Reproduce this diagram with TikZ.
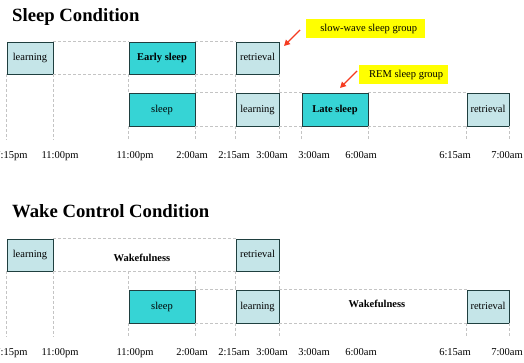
\documentclass[tikz,border=0pt]{standalone}
\usepackage{fontspec}
\setmainfont{Liberation Serif}
\usetikzlibrary{arrows.meta}
\definecolor{lightbox}{HTML}{C5E5E8}
\definecolor{tealbox}{HTML}{36D4D5}
\definecolor{boxline}{HTML}{1F3F3F}
\definecolor{guidegray}{HTML}{C4C4C4}
\definecolor{notey}{HTML}{FFFF00}
\definecolor{arrowred}{HTML}{F53B20}
\tikzset{
  boxbase/.style={draw=boxline, line width=0.9pt, inner sep=0pt, minimum height=32pt,
    font=\fontsize{10.5}{12}\selectfont, text height=1.5ex, text depth=0.3ex},
  lbox/.style={boxbase, fill=lightbox},
  tbox/.style={boxbase, fill=tealbox},
  guide/.style={draw=guidegray, line width=0.8pt, dash pattern=on 3pt off 2pt},
  timelbl/.style={anchor=base, font=\fontsize{10.5}{12}\selectfont, inner sep=0pt},
  titlelbl/.style={anchor=base west, font=\fontsize{18.7}{20}\selectfont\bfseries, inner sep=0pt},
  notebox/.style={fill=notey, font=\fontsize{10.5}{12}\selectfont, inner sep=0pt, anchor=north west,
    text height=1.6ex, text depth=0.4ex},
  notearrow/.style={draw=arrowred, line width=1.4pt, -{Triangle[length=6pt,width=6pt]}},
  wakelbl/.style={font=\fontsize{10.5}{12}\selectfont\bfseries, inner sep=0pt}
}
\begin{document}
\begin{tikzpicture}[x=1pt,y=-1pt]
\useasboundingbox (0,0) rectangle (524,362);

% ---------- Sleep condition ----------
\node[titlelbl] (t1) at (12,21.5) {Sleep Condition};

\node[lbox, minimum width=46pt] (a1) at (30,58) {learning};
\node[tbox, minimum width=66pt] (a2) at (162,58) {\bfseries Early sleep};
\node[lbox, minimum width=43pt] (a3) at (257.5,58) {retrieval};

\node[tbox, minimum width=66pt, minimum height=33pt] (b1) at (162,109.5) {sleep};
\node[lbox, minimum width=43pt, minimum height=33pt] (b2) at (257.5,109.5) {learning};
\node[tbox, minimum width=66pt, minimum height=33pt] (b3) at (335,109.5) {\bfseries Late sleep};
\node[lbox, minimum width=42pt, minimum height=33pt] (b4) at (488,109.5) {retrieval};

\coordinate (tick1) at (0,140);

\draw[guide] (a1.north east) -- (a2.north west);
\draw[guide] (a1.south east) -- (a2.south west);
\draw[guide] (a2.north east) -- (a3.north west);
\draw[guide] (a2.south east) -- (a3.south west);
\draw[guide] (b1.north east) -- (b2.north west);
\draw[guide] (b1.south east) -- (b2.south west);
\draw[guide] (b2.north east) -- (b3.north west);
\draw[guide] (b2.south east) -- (b3.south west);
\draw[guide] (b3.north east) -- (b4.north west);
\draw[guide] (b3.south east) -- (b4.south west);

\draw[guide] (a1.south west) -- (a1.south west |- tick1);
\draw[guide] (a1.south east) -- (a1.south east |- tick1);
\draw[guide] (a2.south west) -- (b1.north west);
\draw[guide] (a2.south east) -- (b1.north east);
\draw[guide] (a3.south west) -- (b2.north west);
\draw[guide] (a3.south east) -- (b2.north east);
\draw[guide] (b1.south west) -- (b1.south west |- tick1);
\draw[guide] (b1.south east) -- (b1.south east |- tick1);
\draw[guide] (b2.south west) -- (b2.south west |- tick1);
\draw[guide] (b2.south east) -- (b2.south east |- tick1);
\draw[guide] (b3.south west) -- (b3.south west |- tick1);
\draw[guide] (b3.south east) -- (b3.south east |- tick1);
\draw[guide] (b4.south west) -- (b4.south west |- tick1);
\draw[guide] (b4.south east) -- (b4.south east |- tick1);

\node[timelbl] (s1) at (11.5,158) {7:15pm};
\node[timelbl] (s2) at (60,158) {11:00pm};
\node[timelbl] (s3) at (135,158) {11:00pm};
\node[timelbl] (s4) at (192,158) {2:00am};
\node[timelbl] (s5) at (234,158) {2:15am};
\node[timelbl] (s6) at (272,158) {3:00am};
\node[timelbl] (s7) at (314,158) {3:00am};
\node[timelbl] (s8) at (361,158) {6:00am};
\node[timelbl] (s9) at (455,158) {6:15am};
\node[timelbl] (s10) at (507,158) {7:00am};

\node[notebox, minimum width=119pt, minimum height=19pt] (n1) at (306,19) {\hspace*{6pt}slow-wave sleep group\hfill};
\node[notebox, minimum width=89pt, minimum height=19pt] (n2) at (359,65) {\hspace*{5pt}REM sleep group\hfill};
\coordinate (n1tail) at (300,30);
\coordinate (n1head) at (284,46);
\coordinate (n2tail) at (357,71);
\coordinate (n2head) at (340,88);
\draw[notearrow] (n1tail) -- (n1head);
\draw[notearrow] (n2tail) -- (n2head);

% ---------- Wake control condition ----------
\node[titlelbl] (t2) at (12,217) {Wake Control Condition};

\node[lbox, minimum width=46pt] (c1) at (30,255) {learning};
\node[lbox, minimum width=43pt] (c2) at (257.5,255) {retrieval};
\node[wakelbl] (w1) at (142,258) {Wakefulness};

\node[tbox, minimum width=66pt, minimum height=33pt] (d1) at (162,306.5) {sleep};
\node[lbox, minimum width=43pt, minimum height=33pt] (d2) at (257.5,306.5) {learning};
\node[lbox, minimum width=42pt, minimum height=33pt] (d3) at (488,306.5) {retrieval};
\node[wakelbl] (w2) at (377,304) {Wakefulness};

\coordinate (tick2) at (0,337);
\coordinate (r1) at (0,271);

\draw[guide] (c1.north east) -- (c2.north west);
\draw[guide] (c1.south east) -- (c2.south west);
\draw[guide] (d1.north east) -- (d2.north west);
\draw[guide] (d1.south east) -- (d2.south west);
\draw[guide] (d2.north east) -- (d3.north west);
\draw[guide] (d2.south east) -- (d3.south west);

\draw[guide] (c1.south west) -- (c1.south west |- tick2);
\draw[guide] (c1.south east) -- (c1.south east |- tick2);
\draw[guide] (d1.north west |- r1) -- (d1.north west);
\draw[guide] (d1.north east |- r1) -- (d1.north east);
\draw[guide] (c2.south west) -- (d2.north west);
\draw[guide] (c2.south east) -- (d2.north east);
\draw[guide] (d1.south west) -- (d1.south west |- tick2);
\draw[guide] (d1.south east) -- (d1.south east |- tick2);
\draw[guide] (d2.south west) -- (d2.south west |- tick2);
\draw[guide] (d2.south east) -- (d2.south east |- tick2);
\draw[guide] (d3.south west) -- (d3.south west |- tick2);
\draw[guide] (d3.south east) -- (d3.south east |- tick2);

\node[timelbl] (u1) at (11.5,355.5) {7:15pm};
\node[timelbl] (u2) at (60,355.5) {11:00pm};
\node[timelbl] (u3) at (135,355.5) {11:00pm};
\node[timelbl] (u4) at (192,355.5) {2:00am};
\node[timelbl] (u5) at (234,355.5) {2:15am};
\node[timelbl] (u6) at (272,355.5) {3:00am};
\node[timelbl] (u7) at (314,355.5) {3:00am};
\node[timelbl] (u8) at (361,355.5) {6:00am};
\node[timelbl] (u9) at (455,355.5) {6:15am};
\node[timelbl] (u10) at (507,355.5) {7:00am};
\end{tikzpicture}
\end{document}
